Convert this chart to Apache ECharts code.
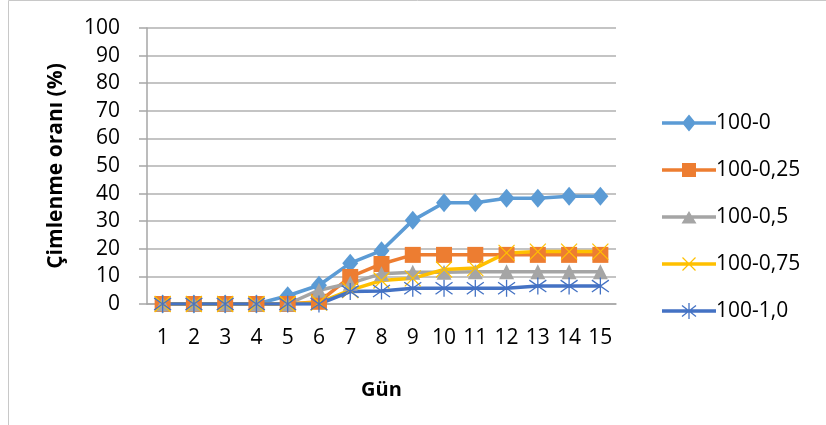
<!DOCTYPE html>
<html>
<head>
<meta charset="utf-8">
<script src="https://cdn.jsdelivr.net/npm/echarts@6/dist/echarts.min.js"></script>
<style>
html,body{margin:0;padding:0;background:#fff;}
#c{width:826px;height:425px;}
</style>
</head>
<body>
<div id="c"></div>
<script>
var days = ['1','2','3','4','5','6','7','8','9','10','11','12','13','14','15'];
var yTicks = [0,10,20,30,40,50,60,70,80,90,100];
var seriesNames = ['100-0','100-0,25','100-0,5','100-0,75','100-1,0'];
var s100_0    = [0,0,0,0,3,6.8,14.8,19.3,30.3,36.7,36.7,38.3,38.3,39,39];
var s100_025  = [0,0,0,0,0,0.8,9.8,14.5,17.8,17.8,17.8,17.8,17.8,17.8,17.8];
var s100_05   = [0,0,0,0,0,5,7.5,11,11.5,11.5,11.7,11.7,11.7,11.7,11.7];
var s100_075  = [0,0,0,0,0,0.5,5,8.5,9.3,12.5,13,18.5,19,19,19];
var s100_10   = [0,0,0,0,0,0,4.5,4.7,5.7,5.7,5.7,5.7,6.5,6.5,6.5];
var colors = ['#5B9BD5','#ED7D31','#A5A5A5','#FFC000','#4472C4'];

var FONT = 'Open Sans';
var chart = echarts.init(document.getElementById('c'));

// legend icon helpers (54 x 17 frame)
function quad(x1, y1, x2, y2, hw) {
  var dx = x2 - x1, dy = y2 - y1, L = Math.sqrt(dx*dx + dy*dy);
  var nx = -dy / L * hw, ny = dx / L * hw;
  var p = [[x1+nx, y1+ny], [x2+nx, y2+ny], [x2-nx, y2-ny], [x1-nx, y1-ny]];
  var a = 0;
  for (var i = 0; i < 4; i++) { var q = p[i], r = p[(i+1)%4]; a += q[0]*r[1] - r[0]*q[1]; }
  if (a < 0) p.reverse();
  return 'M' + p.map(function(t){ return t[0].toFixed(2) + ',' + t[1].toFixed(2); }).join('L') + 'Z';
}
var LINE = 'M0,6.75H54V10.25H0Z';
var FRAME = 'M0,0M54,17';
var icons = [
  'path://' + FRAME + LINE + 'M27,0L34,8.5L27,17L20,8.5Z',
  'path://' + FRAME + LINE + 'M20,1.5H34V15.5H20Z',
  'path://' + FRAME + LINE + 'M27,2.5L34.5,15H19.5Z',
  'path://' + FRAME + LINE + quad(20.5,2,33.5,15,0.6) + quad(33.5,2,20.5,15,0.6),
  'path://' + FRAME + LINE + quad(27,0.5,27,16.5,0.65) + quad(20,3,34,14,0.65) + quad(34,3,20,14,0.65)
];

function mkSeries(name, data, color, symbol, size, hollow, bw) {
  return {
    name: name, type: 'line', data: data,
    symbol: symbol, symbolSize: size,
    lineStyle: {color: color, width: 3.5},
    itemStyle: hollow ? {color: 'rgba(0,0,0,0)', borderColor: color, borderWidth: bw} : {color: color, borderWidth: 0},
    emphasis: {disabled: true},
    animation: false
  };
}

var option = {
  animation: false,
  graphic: [{
    type: 'rect', shape: {x: 8.5, y: 0.5, width: 840, height: 440},
    style: {fill: 'none', stroke: '#c8c8c8', lineWidth: 1}, z: -1
  }],
  grid: {left: 147, right: 210, top: 28, bottom: 121, containLabel: false},
  legend: {
    orient: 'vertical', left: 657, top: 106,
    itemWidth: 54, itemHeight: 17, itemGap: 23,
    symbolKeepAspect: false,
    textStyle: {fontFamily: FONT, fontSize: 21, color: '#000', lineHeight: 24, padding: [0,0,0,-5]},
    data: seriesNames.map(function(n, i){
      return {name: n, icon: icons[i], itemStyle: {color: colors[i], borderWidth: 0}};
    })
  },
  xAxis: {
    type: 'category', data: days, boundaryGap: true,
    name: 'Gün', nameLocation: 'middle', nameGap: 76,
    nameTextStyle: {fontFamily: FONT, fontSize: 20, fontWeight: 'bold', color: '#000'},
    axisLine: {lineStyle: {color: '#a6a6a6', width: 1.5}},
    axisTick: {show: false},
    axisLabel: {fontFamily: FONT, fontSize: 21, color: '#000', margin: 24, interval: 0}
  },
  yAxis: {
    type: 'value', min: 0, max: 100, interval: 10,
    name: 'Çimlenme oranı (%)', nameLocation: 'middle', nameGap: 80, nameRotate: 90,
    nameTextStyle: {fontFamily: FONT, fontSize: 21, fontWeight: 'bold', color: '#000'},
    axisLine: {show: true, lineStyle: {color: '#a6a6a6', width: 1.5}},
    axisTick: {show: true, length: 8, lineStyle: {color: '#a6a6a6', width: 1.5}},
    splitLine: {lineStyle: {color: '#b0b0b0', width: 1.5}},
    axisLabel: {fontFamily: FONT, fontSize: 21, color: '#000', margin: 27,
      formatter: function(v){ return yTicks.indexOf(v) >= 0 ? String(v) : ''; }}
  },
  series: [
    mkSeries(seriesNames[0], s100_0, colors[0], 'diamond', [16,19], false),
    mkSeries(seriesNames[1], s100_025, colors[1], 'rect', 16, false),
    mkSeries(seriesNames[2], s100_05, colors[2], 'triangle', 15, false),
    mkSeries(seriesNames[3], s100_075, colors[3], 'path://M0,0L10,10M10,0L0,10', 16, true, 1.2),
    mkSeries(seriesNames[4], s100_10, colors[4], 'path://M5,0L5,10M0,1.5L10,8.5M10,1.5L0,8.5', 17, true, 1.3)
  ]
};
chart.setOption(option);
</script>
</body>
</html>
